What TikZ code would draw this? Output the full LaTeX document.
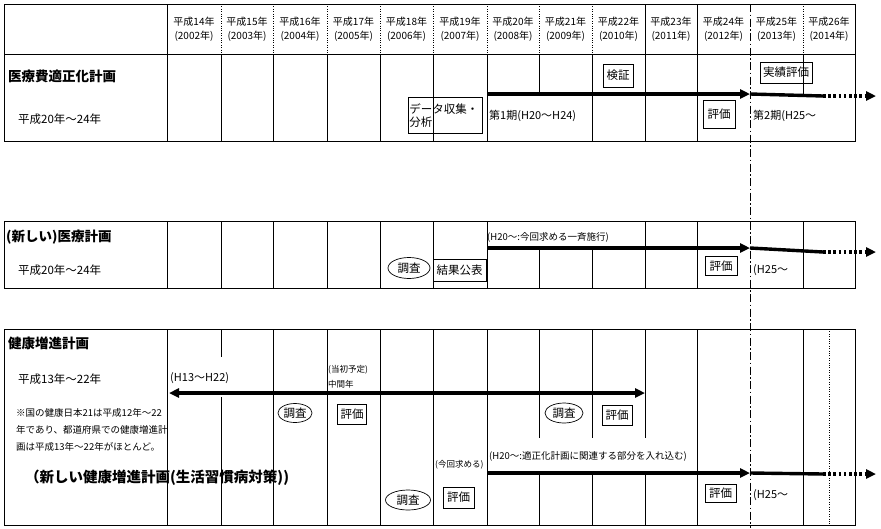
\documentclass[tikz,border=0pt]{standalone}
\usepackage{fontspec}
\setmainfont{Noto Sans CJK JP}
\usetikzlibrary{arrows.meta,shapes.geometric}
\begin{document}
\begin{tikzpicture}[x=1pt,y=-1pt,
  grid/.style={line width=0.8pt},
  dotv/.style={line width=0.8pt,dash pattern=on 0.8pt off 1.6pt},
  dashdotv/.style={line width=0.9pt,dash pattern=on 8pt off 2.5pt on 1.5pt off 2.5pt},
  yr/.style={font=\fontsize{10}{11}\selectfont,inner sep=0pt},
  ttl/.style={font=\bfseries\fontsize{13.5}{14}\selectfont,anchor=west,inner sep=0pt},
  per/.style={font=\fontsize{11.5}{12}\selectfont,anchor=west,inner sep=0pt},
  sm/.style={font=\fontsize{9.5}{10}\selectfont,anchor=west,inner sep=0pt},
  tinyt/.style={font=\fontsize{8.5}{9}\selectfont,anchor=west,inner sep=0pt},
  mid/.style={font=\fontsize{11}{12}\selectfont,anchor=west,inner sep=0pt},
  evbox/.style={draw,line width=0.7pt,fill=white,font=\fontsize{11.5}{12}\selectfont,inner sep=0pt},
  evopen/.style={draw,line width=0.7pt,font=\fontsize{11.5}{12}\selectfont,inner sep=0pt},
  evell/.style={ellipse,draw,line width=0.7pt,fill=white,font=\fontsize{11.5}{12}\selectfont,inner sep=0pt},
  barrow/.style={line width=3.4pt,-{Triangle[length=10pt,width=9pt]}},
  bline/.style={line width=3.4pt},
  darrow/.style={line width=3.4pt,dash pattern=on 2.6pt off 2.6pt,-{Triangle[length=10pt,width=9pt]}},
  dblarrow/.style={line width=3.4pt,{Triangle[length=10pt,width=9pt]}-{Triangle[length=10pt,width=9pt]}},
]
\useasboundingbox (0,0) rectangle (881,528);

% ---------- header ----------
\draw[grid] (4,4) rectangle (855,54);
\draw[grid] (167,4) -- (167,54);
\foreach \x in {221,273,327,380,433,487,539,592,803} \draw[dotv] (\x,4) -- (\x,54);
\foreach \x in {645,697} \draw[grid] (\x,4) -- (\x,54);
\foreach \xa/\xb/\n/\yy in {167/221/14/2002,221/273/15/2003,273/327/16/2004,327/380/17/2005,380/433/18/2006,433/487/19/2007,487/539/20/2008,539/592/21/2009,592/645/22/2010,645/697/23/2011,697/750/24/2012,750/803/25/2013,803/855/26/2014}{
  \node[yr] (hy\n) at ({(\xa+\xb)/2},21.5) {平成{\n}年};
  \node[yr] (hc\n) at ({(\xa+\xb)/2},36.5) {({\yy}年)};
}

% ---------- section 1 ----------
\draw[grid] (4,54) rectangle (855,141);
\foreach \x in {167,221,273,327,380,433,487,592,645,697} \draw[grid] (\x,54) -- (\x,141);
\foreach \x in {539,803} \draw[grid] (\x,54) -- (\x,94);
\node[ttl] (t1) at (8,76) {医療費適正化計画};
\node[per] (p1) at (18,119) {平成20年〜24年};
\node[evopen,anchor=north west,minimum width=74pt,minimum height=36pt,align=left,text width=72pt] (dk) at (408,97) {データ収集・\\[1pt]分析};
\node[evbox,minimum width=30pt,minimum height=23pt] (kj) at (618,75.5) {検証};
\node[evopen,minimum width=52pt,minimum height=21pt] (jh) at (786,72.5) {実績評価};
\node[evbox,minimum width=32pt,minimum height=28pt] (hk1) at (719,114) {評価};
\node[mid] (k1) at (489,116) {第1期(H20〜H24)};
\node[mid] (k2) at (753,116) {第2期(H25〜};
\coordinate (a1s) at (487,94);
\coordinate (a1e) at (750,94);
\coordinate (a1m) at (823,96);
\coordinate (a1f) at (876,96);
\draw[barrow] (a1s) -- (a1e);
\draw[bline] (a1e) -- (a1m);
\draw[darrow] (a1m) -- (a1f);

% ---------- section 2 ----------
\draw[grid] (4,221) rectangle (855,288);
\foreach \x in {167,221,273,327,380,433,487,645,697,803} \draw[grid] (\x,221) -- (\x,288);
\foreach \x in {539,592} \draw[grid] (\x,250) -- (\x,288);
\node[ttl] (t2) at (6,237) {(新しい)医療計画};
\node[per] (p2) at (18,270) {平成20年〜24年};
\node[sm] (s2) at (487,237) {(H20〜:今回求める一斉施行)};
\node[evell,minimum width=42pt,minimum height=21pt] (cs2) at (409,268) {調査};
\node[evbox,minimum width=53pt,minimum height=22pt] (kk) at (459.5,270) {結果公表};
\node[evbox,minimum width=32pt,minimum height=19pt] (hk2) at (721,266) {評価};
\node[mid] (k3) at (753,270) {(H25〜};
\coordinate (a2s) at (487,248);
\coordinate (a2e) at (750,248);
\coordinate (a2m) at (823,252);
\coordinate (a2f) at (876,252);
\draw[barrow] (a2s) -- (a2e);
\draw[bline] (a2e) -- (a2m);
\draw[darrow] (a2m) -- (a2f);

% ---------- section 3 ----------
\draw[grid] (4,329) rectangle (855,525);
\foreach \x in {167,273,327,380,433,487,697,803} \draw[grid] (\x,329) -- (\x,525);
\draw[grid] (221,329) -- (221,357) (221,397) -- (221,525);
\foreach \x in {539,592,645} \draw[grid] (\x,329) -- (\x,438) (\x,471) -- (\x,525);
\draw[dotv] (829,329) -- (829,525);
\node[ttl] (t3) at (8,343) {健康増進計画};
\node[per] (p3) at (18,379) {平成13年〜22年};
\node[sm] (n1) at (16,413) {※国の健康日本21は平成12年〜22};
\node[sm] (n2) at (16,430) {年であり、都道府県での健康増進計};
\node[sm] (n3) at (16,447) {画は平成13年〜22年がほとんど。};
\node[font=\bfseries\fontsize{14.5}{15}\selectfont,anchor=west,inner sep=0pt] (nk) at (25,478) {（新しい健康増進計画(生活習慣病対策))};
\node[mid] (h13) at (170,378) {(H13〜H22)};
\node[tinyt] (tk1) at (328,370) {(当初予定)};
\node[tinyt] (tk2) at (328,384) {中間年};
\coordinate (a3l) at (169,393);
\coordinate (a3r) at (645,393);
\draw[dblarrow] (a3l) -- (a3r);
\node[evell,minimum width=34pt,minimum height=19pt] (cs3) at (295,413) {調査};
\node[evbox,minimum width=29pt,minimum height=20pt] (hk3) at (352,414) {評価};
\node[evell,minimum width=38pt,minimum height=20pt] (cs4) at (564,413) {調査};
\node[evbox,minimum width=30pt,minimum height=20pt] (hk4) at (617,415) {評価};
\node[tinyt] (kk2) at (435,465) {(今回求める)};
\node[evell,minimum width=45pt,minimum height=20pt] (cs5) at (408,500) {調査};
\node[evbox,minimum width=31pt,minimum height=21pt] (hk5) at (458.5,497.5) {評価};
\node[sm] (s3) at (489,456) {(H20〜:適正化計画に関連する部分を入れ込む)};
\node[evbox,minimum width=31pt,minimum height=18pt] (hk6) at (720.5,493.5) {評価};
\node[mid] (k4) at (753,495) {(H25〜};
\coordinate (a4s) at (487,473);
\coordinate (a4e) at (750,473);
\coordinate (a4m) at (823,474);
\coordinate (a4f) at (876,474);
\draw[barrow] (a4s) -- (a4e);
\draw[bline] (a4e) -- (a4m);
\draw[darrow] (a4m) -- (a4f);

% ---------- global dash-dot divider ----------
\draw[dashdotv] (750,4) -- (750,528);
\end{tikzpicture}
\end{document}
